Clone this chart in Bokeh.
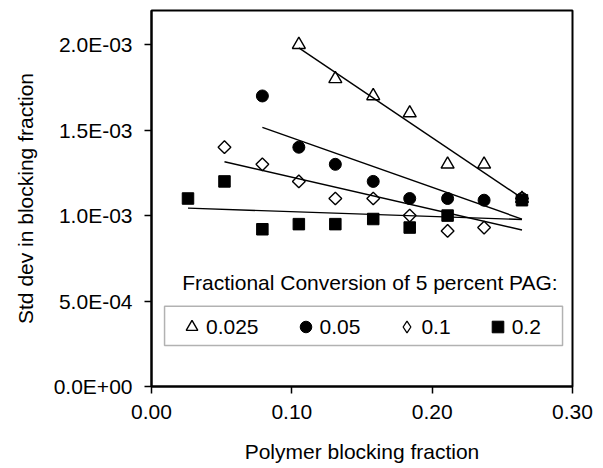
import numpy as np
from bokeh.plotting import figure
from bokeh.models import Range1d, FixedTicker, Legend, LegendItem, BoxAnnotation, Label
from bokeh.embed import file_html
from bokeh.resources import INLINE

# ---- data ----
x_0025 = [0.105, 0.131, 0.158, 0.184, 0.211, 0.237, 0.264]
y_0025 = [2.0e-3, 1.8e-3, 1.7e-3, 1.6e-3, 1.3e-3, 1.3e-3, 1.1e-3]

x_005 = [0.079, 0.105, 0.131, 0.158, 0.184, 0.211, 0.237, 0.264]
y_005 = [1.7e-3, 1.4e-3, 1.3e-3, 1.2e-3, 1.1e-3, 1.1e-3, 1.09e-3, 1.1e-3]

x_01 = [0.052, 0.079, 0.105, 0.131, 0.158, 0.184, 0.211, 0.237, 0.264]
y_01 = [1.4e-3, 1.3e-3, 1.2e-3, 1.1e-3, 1.1e-3, 1.0e-3, 0.91e-3, 0.93e-3, 1.1e-3]

x_02 = [0.026, 0.052, 0.079, 0.105, 0.131, 0.158, 0.184, 0.211, 0.264]
y_02 = [1.1e-3, 1.2e-3, 0.92e-3, 0.95e-3, 0.95e-3, 0.98e-3, 0.93e-3, 1.0e-3, 1.09e-3]

series_labels = ["0.025", "0.05", "0.1", "0.2"]
legend_title = "Fractional Conversion of 5 percent PAG:"

x_ticks = [0.0, 0.1, 0.2, 0.3]
x_tick_labels = ["0.00", "0.10", "0.20", "0.30"]
y_ticks = [0.0, 0.0005, 0.001, 0.0015, 0.002]
y_tick_labels = ["0.0E+00", "5.0E-04", "1.0E-03", "1.5E-03", "2.0E-03"]

FONT = "Liberation Sans"

p = figure(width=603, height=468, output_backend="svg", toolbar_location=None,
           x_range=Range1d(0, 0.3), y_range=Range1d(0, 0.0022),
           min_border_left=151, min_border_right=31, min_border_top=10,
           min_border_bottom=82)

p.xgrid.visible = False
p.ygrid.visible = False
p.outline_line_color = "black"
p.outline_line_width = 2
p.outline_line_alpha = 1
p.background_fill_color = "white"
p.border_fill_color = "white"

for ax in (p.xaxis[0], p.yaxis[0]):
    ax.axis_line_color = "black"
    ax.axis_line_width = 2
    ax.major_tick_line_color = "black"
    ax.major_tick_line_width = 1.5
    ax.major_tick_out = 7
    ax.major_tick_in = 0
    ax.minor_tick_line_color = None
    ax.major_label_text_font = FONT
    ax.major_label_text_font_size = "21px"
    ax.major_label_text_color = "black"
    ax.axis_label_text_font = FONT
    ax.axis_label_text_font_size = "21px"
    ax.axis_label_text_font_style = "normal"
    ax.axis_label_text_color = "black"

p.xaxis.ticker = FixedTicker(ticks=x_ticks)
p.xaxis.major_label_overrides = dict(zip(x_ticks, x_tick_labels))
p.yaxis.ticker = FixedTicker(ticks=y_ticks)
p.yaxis.major_label_overrides = dict(zip(y_ticks, y_tick_labels))
p.xaxis.axis_label = "Polymer blocking fraction"
p.yaxis.axis_label = "Std dev in blocking fraction"
p.xaxis.major_label_standoff = 11
p.yaxis.major_label_standoff = 12
p.xaxis.axis_label_standoff = 18
p.yaxis.axis_label_standoff = 14

r1 = p.scatter(x_0025, y_0025, marker="triangle", size=13, fill_color="white",
               line_color="black", line_width=1.4)
r2 = p.scatter(x_005, y_005, marker="circle", size=12, fill_color="black",
               line_color="black", line_width=1)
r3 = p.scatter(x_01, y_01, marker="square", angle=np.pi / 4, size=9,
               fill_color="white", line_color="black", line_width=1.4)
r4 = p.scatter(x_02, y_02, marker="square", size=11.5, fill_color="black",
               line_color="black", line_width=1)

# linear trend lines fitted to each series
for xs, ys in ((x_0025, y_0025), (x_005, y_005), (x_01, y_01), (x_02, y_02)):
    k, b = np.polyfit(xs, ys, 1)
    xe = np.array([min(xs), max(xs)])
    p.line(xe, k * xe + b, line_color="black", line_width=1.4)

# hidden renderer of the same series, used only for the open-diamond legend key
r3_key = p.scatter(x_01, y_01, marker="diamond", size=12, fill_color="white",
                   line_color="black", line_width=1.3, visible=False)

# legend frame and title
p.add_layout(BoxAnnotation(left=0.0093, right=0.2929, bottom=0.00024, top=0.00047,
                           fill_color="white", fill_alpha=1,
                           line_color="black", line_width=1.5, level="underlay"))
p.add_layout(Label(x=0.0219, y=0.000608, text=legend_title, text_font=FONT,
                   text_font_size="21px", text_baseline="middle", text_color="black"))

legend = Legend(items=[LegendItem(label=series_labels[0], renderers=[r1]),
                       LegendItem(label=series_labels[1], renderers=[r2]),
                       LegendItem(label=series_labels[2], renderers=[r3_key]),
                       LegendItem(label=series_labels[3], renderers=[r4])],
                orientation="horizontal", location=(26, 45),
                glyph_width=29, glyph_height=29, label_standoff=0, spacing=32,
                padding=0, margin=0, border_line_color=None,
                background_fill_alpha=0, label_text_font=FONT,
                label_text_font_size="21px", label_text_color="black")
p.add_layout(legend, "center")

open("out.html", "w").write(file_html(p, INLINE))
